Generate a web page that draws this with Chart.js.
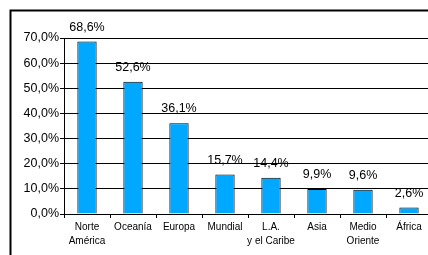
<!DOCTYPE html>
<html>
<head>
<meta charset="utf-8">
<script src="https://cdn.jsdelivr.net/npm/chart.js@4"></script>
<style>
  html, body { margin: 0; padding: 0; overflow: hidden; background: #fff; }
  #wrap { position: absolute; left: 0; top: 0; width: 440px; height: 255px; }
</style>
</head>
<body>
<div id="wrap"><canvas id="chart" width="440" height="255"></canvas></div>
<script>
var regions = [['Norte', 'América'], 'Oceanía', 'Europa', 'Mundial', ['L.A.', 'y el Caribe'], 'Asia', ['Medio', 'Oriente'], 'África'];
var shares = [68.6, 52.6, 36.1, 15.7, 14.4, 9.9, 9.6, 2.6];
var yTicks = [0, 10, 20, 30, 40, 50, 60, 70];

function pct(v) {
  return v.toFixed(1).replace('.', ',') + '%';
}

// frame around the chart (only top and left are visible in the crop)
var framePlugin = {
  id: 'frame',
  beforeDraw: function(chart) {
    var ctx = chart.ctx;
    ctx.save();
    ctx.strokeStyle = '#000';
    ctx.lineWidth = 2;
    ctx.beginPath();
    ctx.moveTo(10.5, 256);
    ctx.lineTo(10.5, 10.5);
    ctx.lineTo(441, 10.5);
    ctx.stroke();
    ctx.restore();
  }
};

// value labels above bars
var valuePlugin = {
  id: 'values',
  afterDatasetsDraw: function(chart) {
    var ctx = chart.ctx;
    var meta = chart.getDatasetMeta(0);
    ctx.save();
    ctx.fillStyle = '#000';
    ctx.font = '12.5px "Liberation Sans", Arial, sans-serif';
    ctx.textAlign = 'center';
    ctx.textBaseline = 'bottom';
    meta.data.forEach(function(bar, i) {
      ctx.fillText(pct(shares[i]), bar.x, bar.y - 8);
    });
    ctx.restore();
  }
};

var chart = new Chart('chart', {
  type: 'bar',
  data: {
    labels: regions,
    datasets: [{
      data: shares,
      backgroundColor: '#00a8ff',
      borderColor: '#000',
      borderWidth: 1,
      barPercentage: 0.84,
      categoryPercentage: 0.5
    }]
  },
  options: {
    responsive: false,
    animation: false,
    layout: { padding: { top: 38, right: 8, left: 0, bottom: 0 } },
    plugins: { legend: { display: false }, tooltip: { enabled: false } },
    scales: {
      y: {
        min: 0,
        max: 70,
        afterFit: function(scale) { scale.width = 64; },
        afterBuildTicks: function(scale) {
          scale.ticks = yTicks.map(function(v) { return { value: v }; });
        },
        ticks: {
          color: '#000',
          padding: 1,
          font: { family: '"Liberation Sans", Arial, sans-serif', size: 12.5 },
          callback: function(v) { return pct(v); }
        },
        grid: { color: '#000', lineWidth: 1, tickLength: 4 },
        border: { color: '#000', width: 1 }
      },
      x: {
        afterFit: function(scale) { scale.height = 41; },
        ticks: {
          color: '#000',
          padding: 3,
          maxRotation: 0,
          autoSkip: false,
          font: { family: '"Liberation Sans", Arial, sans-serif', size: 10, lineHeight: 1.33 }
        },
        grid: { drawOnChartArea: false, color: '#000', tickLength: 4, offset: true },
        border: { color: '#000', width: 1 }
      }
    }
  },
  plugins: [framePlugin, valuePlugin]
});
</script>
</body>
</html>
